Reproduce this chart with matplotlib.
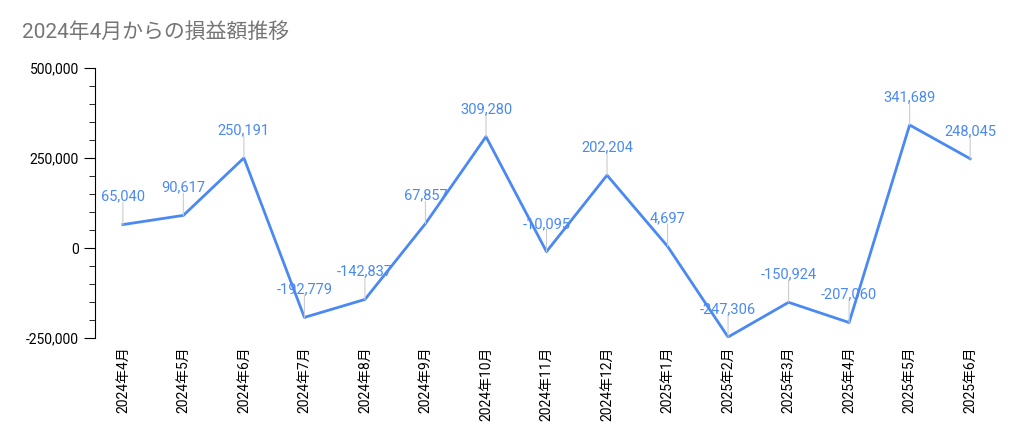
import matplotlib
matplotlib.use("Agg")
import matplotlib.pyplot as plt
from matplotlib.ticker import MultipleLocator, FuncFormatter

plt.rcParams['font.family'] = ['Roboto', 'Noto Sans CJK JP', 'DejaVu Sans']

months = ["2024年4月","2024年5月","2024年6月","2024年7月","2024年8月","2024年9月","2024年10月",
          "2024年11月","2024年12月","2025年1月","2025年2月","2025年3月","2025年4月","2025年5月","2025年6月"]
values = [65040, 90617, 250191, -192779, -142837, 67857, 309280, -10095, 202204, 4697,
          -247306, -150924, -207060, 341689, 248045]

fig = plt.figure(figsize=(10.24, 4.44), dpi=100)
ax = fig.add_axes([95/1024, 106/444, 903/1024, 270/444])
x = list(range(len(values)))
color = "#4a89f3"
ax.plot(x, values, color=color, lw=2)
for i, v in enumerate(values):
    ax.annotate("", xy=(i, v), xytext=(0, 16), textcoords="offset points", annotation_clip=False,
                arrowprops=dict(arrowstyle="-", color="#cccccc", lw=0.8, shrinkA=0, shrinkB=0))
    ax.annotate(f"{v:,}", xy=(i, v), xytext=(0, 15), textcoords="offset points",
                ha="center", va="bottom", color=color, fontsize=10.5, annotation_clip=False)
ax.set_xlim(-0.46, len(values) - 0.54)
ax.set_ylim(-250000, 500000)
ax.yaxis.set_major_locator(MultipleLocator(250000))
ax.yaxis.set_minor_locator(MultipleLocator(50000))
ax.yaxis.set_major_formatter(FuncFormatter(lambda v, p: f"{int(v):,}"))
ax.tick_params(axis='y', which='major', length=8, labelsize=10)
ax.tick_params(axis='y', which='minor', length=4)
ax.set_xticks(x)
ax.set_xticklabels(months, rotation=90, fontsize=10)
ax.tick_params(axis='x', length=0, pad=6)
for s in ["top", "right", "bottom"]:
    ax.spines[s].set_visible(False)
fig.text(22/1024, 1 - 32/444, "2024年4月からの損益額推移", fontsize=15, color="#757575", va="center")
fig.savefig("out.png", dpi=100)
